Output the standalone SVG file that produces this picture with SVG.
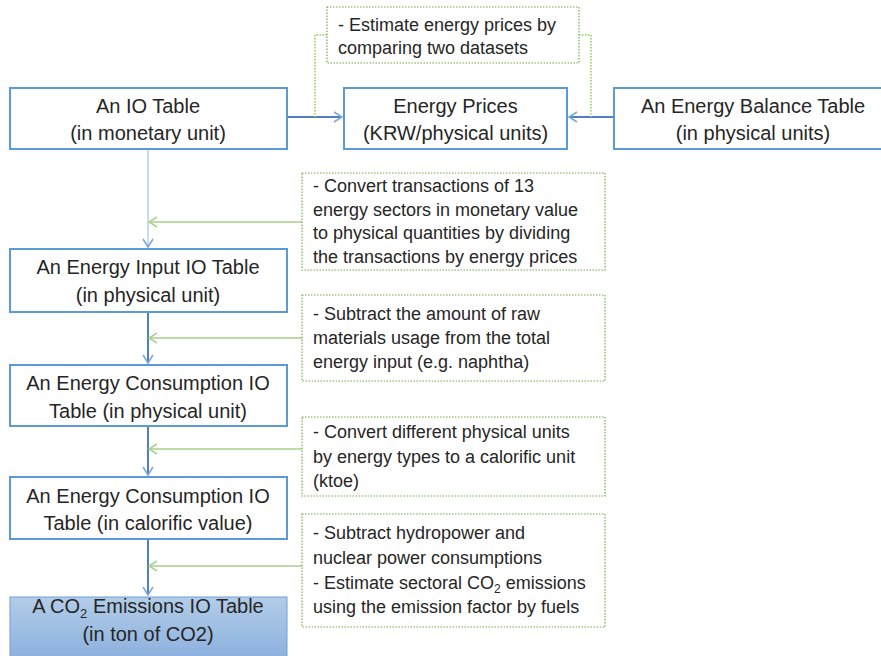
<svg xmlns="http://www.w3.org/2000/svg" width="881" height="656" viewBox="0 0 881 656">
<style>
.box{fill:#ffffff;stroke:#5b9bd5;stroke-width:2}
.note{fill:#ffffff;stroke:#70ad47;stroke-width:1.2;stroke-dasharray:1.5 1.5}
.t{font-family:"Liberation Sans",Arial,sans-serif;font-size:20px;fill:#262626;text-anchor:middle}
.n{font-family:"Liberation Sans",Arial,sans-serif;font-size:18px;fill:#262626}
.blue{stroke:#4f81bd;stroke-width:2;fill:none}
.lblue{stroke:#9dc3e6;stroke-width:1.2;fill:none}
.green{stroke:#a9d18e;stroke-width:1.5;fill:none}
.gdot{stroke:#92d050;stroke-width:1.5;fill:none;stroke-dasharray:1.5 1.5}
</style>
<defs>
<marker id="ab" markerWidth="12" markerHeight="12" refX="10" refY="6" orient="auto" markerUnits="userSpaceOnUse">
<path d="M2,1 L10,6 L2,11" fill="none" stroke="#7aa7dc" stroke-width="1.5"/>
</marker>
<marker id="ag" markerWidth="12" markerHeight="12" refX="10" refY="6" orient="auto" markerUnits="userSpaceOnUse">
<path d="M2,1 L10,6 L2,11" fill="none" stroke="#a9d18e" stroke-width="1.5"/>
</marker>
<linearGradient id="co2" x1="0" y1="0" x2="0" y2="1">
<stop offset="0" stop-color="#b3cde9"/>
<stop offset="1" stop-color="#86acdc"/>
</linearGradient>
</defs>

<g id="connectors">
<line class="blue" x1="287" y1="117" x2="342" y2="117" marker-end="url(#ab)"/>
<line class="blue" x1="614" y1="117" x2="569" y2="117" marker-end="url(#ab)"/>
<polyline class="gdot" points="327,35 315,35 315,117"/>
<polyline class="gdot" points="579,35 591,35 591,117"/>
<line class="lblue" x1="148" y1="149" x2="148" y2="247" marker-end="url(#ab)"/>
<line class="blue" x1="148" y1="312" x2="148" y2="363" marker-end="url(#ab)"/>
<line class="blue" x1="148" y1="426" x2="148" y2="475" marker-end="url(#ab)"/>
<line class="blue" x1="148" y1="539" x2="148" y2="595" marker-end="url(#ab)"/>
<line class="green" x1="302" y1="222" x2="149" y2="222" marker-end="url(#ag)"/>
<line class="green" x1="302" y1="338" x2="149" y2="338" marker-end="url(#ag)"/>
<line class="green" x1="302" y1="449" x2="149" y2="449" marker-end="url(#ag)"/>
<line class="green" x1="302" y1="566" x2="149" y2="566" marker-end="url(#ag)"/>
</g>

<g id="io-table">
<rect class="box" x="10" y="88" width="277" height="61"/>
<text class="t" x="148" y="113">An IO Table</text>
<text class="t" x="148" y="140">(in monetary unit)</text>
</g>

<g id="energy-prices">
<rect class="box" x="344" y="88" width="223" height="61"/>
<text class="t" x="455.5" y="113">Energy Prices</text>
<text class="t" x="455.5" y="140">(KRW/physical units)</text>
</g>

<g id="energy-balance">
<rect class="box" x="614" y="88" width="278" height="61"/>
<text class="t" x="753" y="113">An Energy Balance Table</text>
<text class="t" x="753" y="140">(in physical units)</text>
</g>

<g id="note-prices">
<rect class="note" x="327" y="7" width="252" height="56"/>
<text class="n" x="338" y="31">- Estimate energy prices by</text>
<text class="n" x="338" y="54">comparing two datasets</text>
</g>

<g id="energy-input">
<rect class="box" x="10" y="249" width="277" height="63"/>
<text class="t" x="148" y="274">An Energy Input IO Table</text>
<text class="t" x="148" y="302">(in physical unit)</text>
</g>

<g id="note-convert">
<rect class="note" x="302" y="173" width="303" height="97"/>
<text class="n" x="313" y="192">- Convert transactions of 13</text>
<text class="n" x="313" y="216">energy sectors in monetary value</text>
<text class="n" x="313" y="239">to physical quantities by dividing</text>
<text class="n" x="313" y="263">the transactions by energy prices</text>
</g>

<g id="energy-consumption">
<rect class="box" x="10" y="365" width="277" height="61"/>
<text class="t" x="148" y="390">An Energy Consumption IO</text>
<text class="t" x="148" y="418">Table (in physical unit)</text>
</g>

<g id="note-raw">
<rect class="note" x="302" y="295" width="303" height="86"/>
<text class="n" x="313" y="320">- Subtract the amount of raw</text>
<text class="n" x="313" y="344">materials usage from the total</text>
<text class="n" x="313" y="368">energy input (e.g. naphtha)</text>
</g>

<g id="energy-calorific">
<rect class="box" x="10" y="477" width="277" height="62"/>
<text class="t" x="148" y="503">An Energy Consumption IO</text>
<text class="t" x="148" y="530">Table (in calorific value)</text>
</g>

<g id="note-units">
<rect class="note" x="302" y="417" width="303" height="79"/>
<text class="n" x="313" y="438">- Convert different physical units</text>
<text class="n" x="313" y="463">by energy types to a calorific unit</text>
<text class="n" x="313" y="487">(ktoe)</text>
</g>

<g id="co2-table">
<rect x="10" y="597" width="277" height="70" fill="url(#co2)" stroke="#6f9fd8" stroke-width="1"/>
<text class="t" x="148" y="613">A CO<tspan font-size="13" dy="5">2</tspan><tspan dy="-5"> Emissions IO Table</tspan></text>
<text class="t" x="148" y="641">(in ton of CO2)</text>
</g>

<g id="note-co2">
<rect class="note" x="302" y="514" width="303" height="113"/>
<text class="n" x="313" y="539">- Subtract hydropower and</text>
<text class="n" x="313" y="564">nuclear power consumptions</text>
<text class="n" x="313" y="589">- Estimate sectoral CO<tspan font-size="12" dy="4">2</tspan><tspan dy="-4"> emissions</tspan></text>
<text class="n" x="313" y="613">using the emission factor by fuels</text>
</g>
</svg>
